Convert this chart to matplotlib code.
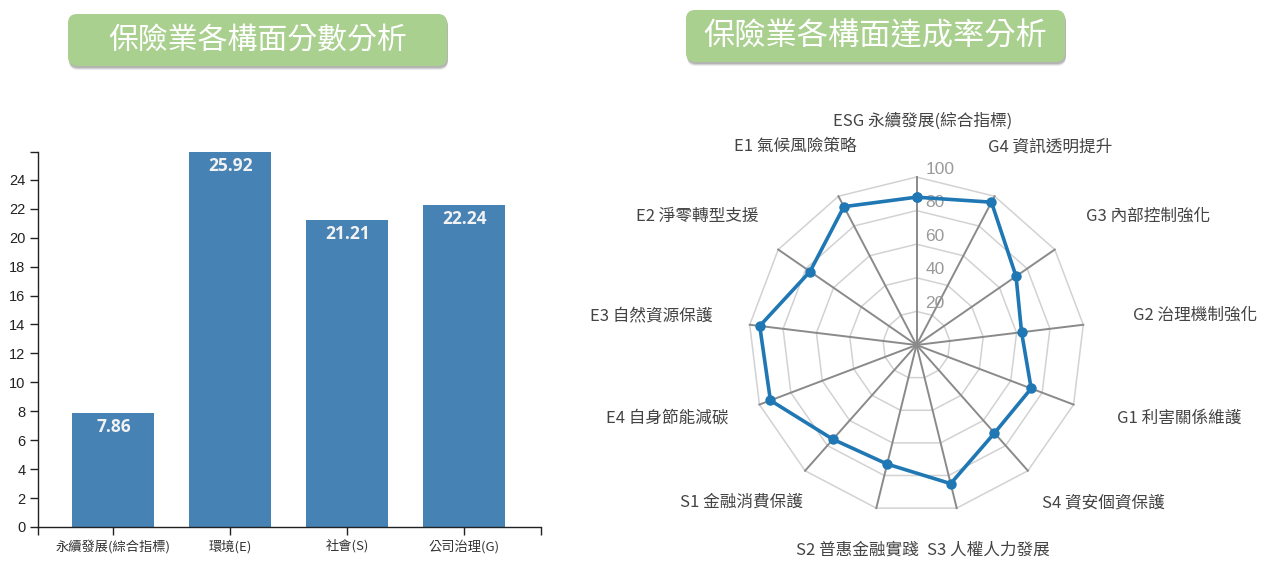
import numpy as np
import matplotlib
matplotlib.use('Agg')
import matplotlib.pyplot as plt
from matplotlib.patches import FancyBboxPatch
from matplotlib.transforms import IdentityTransform

plt.rcParams['font.family'] = ['Noto Sans CJK TC', 'DejaVu Sans']

# ---------------- data ----------------
bar_categories = ['永續發展(綜合指標)', '環境(E)', '社會(S)', '公司治理(G)']
bar_values = [7.86, 25.92, 21.21, 22.24]
bar_yticks = list(range(0, 25, 2))

radar_labels = ['ESG 永續發展(綜合指標)', 'G4 資訊透明提升', 'G3 內部控制強化',
                'G2 治理機制強化', 'G1 利害關係維護', 'S4 資安個資保護',
                'S3 人權人力發展', 'S2 普惠金融實踐', 'S1 金融消費保護',
                'E4 自身節能減碳', 'E3 自然資源保護', 'E2 淨零轉型支援',
                'E1 氣候風險策略']
radar_values = [88, 96, 72, 63, 73, 70, 85, 73, 75, 93, 94, 77, 93]
radar_levels = [20, 40, 60, 80, 100]

title_left = '保險業各構面分數分析'
title_right = '保險業各構面達成率分析'

# ---------------- figure ----------------
W, H = 1273, 563
fig = plt.figure(figsize=(W / 100, H / 100), dpi=100)
fig.patch.set_facecolor('white')


def px(x0, y0, x1, y1):
    return [x0 / W, 1 - y1 / H, (x1 - x0) / W, (y1 - y0) / H]


def title_box(x0, y0, x1, y1, text, fs):
    w, h = x1 - x0, y1 - y0
    for i, a in enumerate([0.10, 0.14, 0.20]):
        d = 3 - i
        sh = FancyBboxPatch((x0 + 1, H - y1 - 1 - d), w, h,
                            boxstyle='round,pad=0,rounding_size=9',
                            transform=IdentityTransform(), fc='#404040',
                            ec='none', alpha=a)
        fig.patches.append(sh)
    box = FancyBboxPatch((x0, H - y1), w, h,
                         boxstyle='round,pad=0,rounding_size=9',
                         transform=IdentityTransform(), fc='#A9D08E',
                         ec='none')
    fig.patches.append(box)
    fig.text((x0 + x1) / 2 / W, 1 - ((y0 + y1) / 2) / H, text,
             ha='center', va='center', color='white', fontsize=fs)


title_box(68, 14, 447, 66, title_left, 21.5)
title_box(686, 10, 1065, 62, title_right, 22.5)

# ---------------- bar chart ----------------
axb = fig.add_axes(px(38, 152, 541, 527))
xpos = np.arange(len(bar_categories))
axb.bar(xpos, bar_values, width=0.70, color='#4682B4', zorder=2)
axb.set_xlim(-0.644, 3.656)
ymax = max(bar_values)
axb.set_ylim(0, ymax)
for s in ['top', 'right']:
    axb.spines[s].set_visible(False)
for s in ['left', 'bottom']:
    axb.spines[s].set_color('#222')
    axb.spines[s].set_linewidth(1)
axb.set_yticks(bar_yticks + [ymax])
axb.set_yticklabels([str(t) for t in bar_yticks] + [''],
                    fontfamily='Liberation Sans', fontsize=10.5, color='#222')
axb.set_xticks(xpos)
axb.set_xticklabels(bar_categories, fontsize=9.5, color='#333')
axb.set_xticks(list(axb.get_xlim()), minor=True)
axb.tick_params(axis='both', which='both', length=6, width=1, color='#222',
                direction='out', pad=3)
for xi, v in zip(xpos, bar_values):
    axb.annotate(f'{v:.2f}', xy=(xi, v), xytext=(0, -14),
                 textcoords='offset pixels', ha='center', va='center',
                 color='#F2F2F2', fontweight='bold', fontsize=12.5,
                 family=['Open Sans', 'DejaVu Sans'])

# ---------------- radar chart ----------------
cx, cy, rr = 916.5, 345, 168
axr = fig.add_axes(px(cx - rr, cy - rr, cx + rr, cy + rr), projection='polar')
axr.set_theta_zero_location('N')
axr.set_theta_direction(-1)
axr.set_ylim(0, 100)
axr.set_axis_off()

n = len(radar_labels)
theta = np.arange(n) * 2 * np.pi / n
theta_c = np.append(theta, theta[0])

for lv in radar_levels:
    axr.plot(theta_c, [lv] * (n + 1), color='#d2d2d2', lw=1.1, zorder=1,
             clip_on=False)
for th in theta:
    axr.plot([th, th], [0, 100], color='#8a8a8a', lw=1.4, zorder=2,
             clip_on=False)
for lv in radar_levels:
    axr.annotate(str(lv), xy=(0, lv), xytext=(9, 8),
                 textcoords='offset pixels', ha='left', va='center',
                 color='#9a9a9a', fontsize=12.5, family='Liberation Sans',
                 zorder=3)

vals_c = np.append(radar_values, radar_values[0])
axr.plot(theta_c, vals_c, color='#1F77B4', lw=2.6, zorder=4, clip_on=False,
         marker='o', markersize=7.5, markeredgewidth=0)

# axis name labels
fig.canvas.draw()
renderer = fig.canvas.get_renderer()
center_disp = axr.transData.transform((0, 0))
Rlab = 212
for lab, th in zip(radar_labels, theta):
    t = fig.text(0, 0, lab, ha='center', va='center', fontsize=12,
                 color='#444444', transform=IdentityTransform())
    bb = t.get_window_extent(renderer)
    s, c = np.sin(th), np.cos(th)
    rv = Rlab if c >= 0 else Rlab - 6
    x = center_disp[0] + s * (Rlab + bb.width / 2) + 6
    y = center_disp[1] + c * (rv + bb.height / 2) + 3
    t.set_position((x, y))

fig.savefig('out.png', dpi=100, facecolor='white')
